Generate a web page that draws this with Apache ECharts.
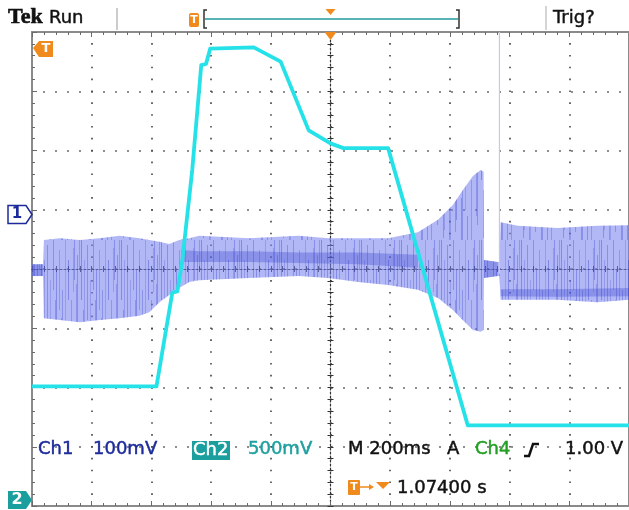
<!DOCTYPE html>
<html><head><meta charset="utf-8">
<script src="https://cdn.jsdelivr.net/npm/echarts@6/dist/echarts.min.js"></script>
<style>html,body{margin:0;padding:0;background:#fff}#c{width:629px;height:510px}</style>
</head><body><div id="c"></div><script>
// Time base: ms relative to the expansion point (screen centre), 200 ms/div
const timeMin = -1000, timeMax = 1000, timeDiv = 200;
// Vertical graticule in divisions, centre = 0
const divMin = -4, divMax = 4;
// Ch1: 100 mV/div, reference marker 0.92 div above centre
const ch1Scale = 100, ch1Pos = 0.92;
// Ch2: 500 mV/div, reference marker 3.9 div below centre
const ch2Scale = 0.5, ch2Pos = -3.9;

// Ch2 trace (V)
const ch2Time  = [-1000, -583, -530, -513, -497, -463, -433, -417, -403, -257, -167, -73, 0, 43, 193, 460, 1000];
const ch2Volts = [0.96, 0.96, 1.75, 1.76, 2.01, 2.79, 3.67, 3.68, 3.81, 3.82, 3.70, 3.12, 3.01, 2.97, 2.97, 0.63, 0.63];

// Ch1 noise envelope (mV)
const ch1Time = [-1000, -963, -960, -907, -840, -773, -707, -640, -607, -573, -540, -507, -473, -440, -273, -107, -7, 93, 193, 293, 360, 410, 443, 477, 503, 513, 514, 560, 566, 570, 627, 760, 893, 1000];
const ch1High = [-84, -84, -43, -40, -43, -40, -36, -40, -43, -46, -50, -43, -40, -36, -40, -36, -40, -40, -40, -30, -9, 16, 41, 65, 75, 72, -77, -80, -80, -13, -19, -23, -19, -18];
const ch1Low  = [-104, -104, -175, -178, -182, -178, -175, -171, -165, -148, -136, -124, -114, -111, -107, -104, -107, -114, -119, -127, -141, -161, -178, -195, -198, -195, -107, -104, -104, -144, -144, -144, -148, -144];

// Ch1 denser core (mV), segments separated by null
const ch1CoreTime = [-1000, -963, null, -500, -440, -273, -107, 93, 293, null, 514, 560, null, 570, 760, 1000];
const ch1CoreHigh = [-84, -84, null, -60, -62, -62, -64, -64, -68, null, -77, -80, null, -126, -126, -124];
const ch1CoreLow  = [-104, -104, null, -80, -80, -80, -82, -84, -90, null, -107, -104, null, -138, -139, -138];

// Ch1 glitch
const ch1SpikeTime = [566, 566];
const ch1SpikeVal  = [-100, 308];

const ch1Div = v => v / ch1Scale + ch1Pos;
const ch2Div = v => v / ch2Scale + ch2Pos;

// streak texture for the sampled noise band: [x, yTop, yBottom, alpha]
const streaks = [[1,0,60,.35],[3,70,118,.3],[4,20,110,.22],[7,5,80,.3],[9,85,120,.25],[10,40,120,.2],[13,0,50,.3],[15,60,112,.28],
  [16,30,100,.33],[19,10,70,.25],[21,78,120,.3],[22,50,120,.28],[25,0,90,.2],[27,96,120,.3],[28,20,60,.35],[31,60,120,.25],
  [33,8,52,.22],[34,0,40,.3],[36,44,96,.26],[37,15,105,.3],[39,0,30,.25]];
const tex = document.createElement('canvas');
tex.width = 40; tex.height = 120;
(function () {
  const g = tex.getContext('2d');
  streaks.forEach(([x, a, b, al]) => {
    g.fillStyle = 'rgba(40,52,200,' + al + ')';
    g.fillRect(x, a, 1, b - a);
  });
})();

function segments(t, hi, lo) {
  const out = []; let cur = {t: [], hi: [], lo: []};
  for (let i = 0; i < t.length; i++) {
    if (t[i] === null) { out.push(cur); cur = {t: [], hi: [], lo: []}; continue; }
    cur.t.push(t[i]); cur.hi.push(hi[i]); cur.lo.push(lo[i]);
  }
  out.push(cur);
  return out;
}

function bandSeries(name, segs, fill, z, textured) {
  return {
    name, type: 'custom', z, silent: true,
    xAxisIndex: 0, yAxisIndex: 0,
    data: segs.map(() => [0, 0]),
    renderItem(params, api) {
      const s = segs[params.dataIndex];
      const pts = [];
      for (let i = 0; i < s.t.length; i++) pts.push(api.coord([s.t[i], ch1Div(s.hi[i])]));
      for (let i = s.t.length - 1; i >= 0; i--) pts.push(api.coord([s.t[i], ch1Div(s.lo[i])]));
      const children = [{type: 'polygon', shape: {points: pts}, style: {fill}}];
      if (textured) children.push({type: 'polygon', shape: {points: pts}, style: {fill: {image: tex, repeat: 'repeat'}}});
      return {type: 'group', children};
    }
  };
}

const chart = echarts.init(document.getElementById('c'), null, {renderer: 'canvas'});
const frame = '#8a8a8a', tickCol = '#6a6a6a';

const baseX = {
  type: 'value', min: timeMin, max: timeMax, interval: timeDiv,
  axisLabel: {show: false}, splitLine: {show: false}
};
const baseY = {
  type: 'value', min: divMin, max: divMax, interval: 1,
  axisLabel: {show: false}, splitLine: {show: false}
};

chart.setOption({
  animation: false,
  backgroundColor: '#ffffff',
  grid: {left: 32, top: 32, width: 600, height: 474, show: false},
  xAxis: [
    Object.assign({}, baseX, {
      position: 'bottom',
      axisLine: {onZero: false, lineStyle: {color: frame, width: 2}},
      axisTick: {inside: true, length: 5, lineStyle: {color: tickCol}},
      minorTick: {show: true, splitNumber: 5, length: 3, lineStyle: {color: tickCol}},
      splitLine: {show: true, lineStyle: {color: '#444', width: 1.6, type: [1.6, 10.25], dashOffset: 0.8}}
    }),
    Object.assign({}, baseX, {
      position: 'top',
      axisLine: {onZero: false, lineStyle: {color: frame, width: 2}},
      axisTick: {inside: true, length: 5, lineStyle: {color: tickCol}},
      minorTick: {show: true, splitNumber: 5, length: 3, lineStyle: {color: tickCol}}
    }),
    Object.assign({}, baseX, {
      position: 'bottom',
      axisLine: {onZero: true, onZeroAxisIndex: 0, lineStyle: {color: '#333', width: 1.2, type: [2, 2]}},
      axisTick: {inside: true, length: 3, lineStyle: {color: '#333'}},
      minorTick: {show: true, splitNumber: 5, length: 3, lineStyle: {color: '#333'}}
    }),
    Object.assign({}, baseX, {
      position: 'bottom',
      axisLine: {onZero: true, onZeroAxisIndex: 0, show: false},
      axisTick: {inside: false, length: 3, lineStyle: {color: '#333'}},
      minorTick: {show: true, splitNumber: 5, length: 3, lineStyle: {color: '#333'}}
    })
  ],
  yAxis: [
    Object.assign({}, baseY, {
      position: 'left',
      axisLine: {onZero: false, lineStyle: {color: frame, width: 2}},
      axisTick: {inside: true, length: 5, lineStyle: {color: tickCol}},
      minorTick: {show: true, splitNumber: 5, length: 3, lineStyle: {color: tickCol}},
      splitLine: {show: true, lineStyle: {color: '#444', width: 1.6, type: [1.6, 10.4], dashOffset: 0.8}}
    }),
    Object.assign({}, baseY, {
      position: 'right',
      axisLine: {onZero: false, lineStyle: {color: frame, width: 2}},
      axisTick: {show: false}
    }),
    Object.assign({}, baseY, {
      position: 'left',
      axisLine: {onZero: true, onZeroAxisIndex: 0, lineStyle: {color: '#333', width: 1.2, type: [2, 2]}},
      axisTick: {inside: true, length: 3, lineStyle: {color: '#333'}},
      minorTick: {show: true, splitNumber: 5, length: 3, lineStyle: {color: '#333'}}
    }),
    Object.assign({}, baseY, {
      position: 'left',
      axisLine: {onZero: true, onZeroAxisIndex: 0, show: false},
      axisTick: {inside: false, length: 3, lineStyle: {color: '#333'}},
      minorTick: {show: true, splitNumber: 5, length: 3, lineStyle: {color: '#333'}}
    })
  ],
  series: [
    bandSeries('Ch1', segments(ch1Time, ch1High, ch1Low), 'rgba(118,126,238,0.56)', 3, true),
    bandSeries('Ch1 core', segments(ch1CoreTime, ch1CoreHigh, ch1CoreLow), 'rgba(45,58,205,0.3)', 4, false),
    {
      name: 'Ch1 glitch', type: 'line', z: 3, symbol: 'none', silent: true,
      data: ch1SpikeTime.map((t, i) => [t, ch1Div(ch1SpikeVal[i])]),
      lineStyle: {color: '#cbc6e6', width: 1.2}
    },
    {
      name: 'Ch2', type: 'line', z: 5, symbol: 'none', silent: true,
      data: ch2Time.map((t, i) => [t, ch2Div(ch2Volts[i])]),
      lineStyle: {color: '#24e2e8', width: 3.8, join: 'round'}
    }
  ]
});

const orange = '#f08a1c', teal = '#1a9e9e', ch1Blue = '#1c2a9c', font = '"DejaVu Sans", sans-serif';
const [xc] = chart.convertToPixel({xAxisIndex: 0, yAxisIndex: 0}, [0, 0]);
const y1 = chart.convertToPixel({yAxisIndex: 0}, ch1Pos);
const y2 = chart.convertToPixel({yAxisIndex: 0}, ch2Pos);

// readout text, slightly emboldened with a hairline stroke in its own colour
function txt(text, x, y, size, color, extra) {
  return {type: 'text', z: 20, style: Object.assign({text, x, y, fill: color, stroke: color, lineWidth: 0.45,
    font: size + 'px ' + font, verticalAlign: 'middle', align: 'left'}, extra || {})};
}

chart.setOption({
  graphic: [
    // header
    txt('Tek', 8, 17, 22, '#111', {font: 'bold 22px "Liberation Serif", serif', lineWidth: 0.6}),
    txt('Run', 49, 18, 18, '#111'),
    {type: 'line', z: 20, shape: {x1: 117, y1: 8, x2: 117, y2: 30}, style: {stroke: '#999', lineWidth: 1}},
    {type: 'rect', z: 20, shape: {x: 189, y: 13, width: 10, height: 14, r: 2}, style: {fill: orange}},
    txt('T', 194, 20, 11, '#fff', {font: 'bold 11px ' + font, align: 'center', lineWidth: 0}),
    {type: 'polyline', z: 20, shape: {points: [[207, 10], [204, 10], [204, 28], [207, 28]]}, style: {stroke: '#333', lineWidth: 1.5, fill: null}},
    {type: 'polyline', z: 20, shape: {points: [[456, 10], [459, 10], [459, 28], [456, 28]]}, style: {stroke: '#333', lineWidth: 1.5, fill: null}},
    {type: 'line', z: 20, shape: {x1: 205, y1: 19, x2: 458, y2: 19}, style: {stroke: '#58b4b4', lineWidth: 2}},
    {type: 'polygon', z: 21, shape: {points: [[xc - 5, 9], [xc + 5, 9], [xc, 15]]}, style: {fill: orange}},
    {type: 'line', z: 20, shape: {x1: 546, y1: 6, x2: 546, y2: 30}, style: {stroke: '#aaa', lineWidth: 1}},
    txt('Trig?', 553, 18.5, 18, '#111'),
    // markers
    {type: 'polygon', z: 20, shape: {points: [[33, 48], [39, 41], [53, 41], [53, 57], [39, 57]]}, style: {fill: orange}},
    txt('T', 46, 49, 13, '#fff', {font: 'bold 13px ' + font, align: 'center', lineWidth: 0}),
    {type: 'polygon', z: 20, shape: {points: [[xc - 6, 32], [xc + 6, 32], [xc, 40]]}, style: {fill: orange}},
    {type: 'polygon', z: 20, shape: {points: [[8, y1 - 9], [26, y1 - 9], [32, y1], [26, y1 + 9], [8, y1 + 9]]}, style: {fill: '#fff', stroke: ch1Blue, lineWidth: 1.5}},
    txt('1', 17, y1, 15, ch1Blue, {font: 'bold 15px ' + font, align: 'center', lineWidth: 0}),
    {type: 'polygon', z: 20, shape: {points: [[8, y2 - 9], [26, y2 - 9], [32, y2], [26, y2 + 9], [8, y2 + 9]]}, style: {fill: teal}},
    txt('2', 17, y2, 16, '#fff', {font: 'bold 16px ' + font, align: 'center', lineWidth: 0}),
    // readouts
    txt('Ch1', 38, 449, 18, ch1Blue),
    txt('100mV', 93, 449, 18, ch1Blue),
    {type: 'rect', z: 20, shape: {x: 192, y: 441, width: 38, height: 19}, style: {fill: teal}},
    txt('Ch2', 193, 450, 18, '#fff'),
    txt('500mV', 248, 449, 18, '#1fa0a0'),
    txt('M 200ms', 348, 449, 18, '#111'),
    txt('A', 447, 449, 18, '#111'),
    txt('Ch4', 475, 449, 18, '#22a022'),
    {type: 'polyline', z: 20, shape: {points: [[524, 456], [529, 456], [533, 444], [539, 444]]}, style: {stroke: '#111', lineWidth: 2.5, fill: null}},
    txt('1.00 V', 565, 449, 18, '#111'),
    {type: 'rect', z: 20, shape: {x: 348, y: 480, width: 12, height: 15, r: 1}, style: {fill: orange}},
    txt('T', 354, 487.5, 11, '#fff', {font: 'bold 11px ' + font, align: 'center', lineWidth: 0}),
    {type: 'line', z: 20, shape: {x1: 360, y1: 487, x2: 371, y2: 487}, style: {stroke: orange, lineWidth: 1.5}},
    {type: 'polygon', z: 20, shape: {points: [[369, 484], [374, 487], [369, 490]]}, style: {fill: orange}},
    {type: 'polygon', z: 20, shape: {points: [[376, 482], [390, 482], [383, 489]]}, style: {fill: orange}},
    txt('1.07400 s', 397, 488, 18, '#111')
  ]
});
</script></body></html>
